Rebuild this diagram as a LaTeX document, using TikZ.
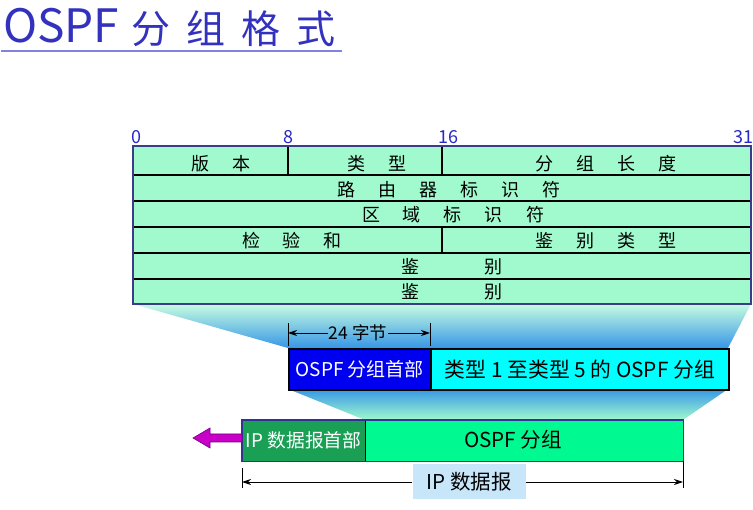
\documentclass[tikz,border=0pt]{standalone}
\usepackage{fontspec}
\setmainfont{Noto Sans CJK SC}
\usetikzlibrary{arrows.meta}
\definecolor{mint}{RGB}{160,250,205}
\definecolor{titleblue}{RGB}{50,50,190}
\definecolor{ulblue}{RGB}{130,130,225}
\definecolor{bitblue}{RGB}{40,40,200}
\definecolor{tborder}{RGB}{60,60,140}
\definecolor{hdrblue}{RGB}{0,0,240}
\definecolor{pktcyan}{RGB}{0,255,255}
\definecolor{dkgreen}{RGB}{25,160,85}
\definecolor{brgreen}{RGB}{0,250,145}
\definecolor{fnblue}{RGB}{55,150,230}
\definecolor{lblbg}{RGB}{200,230,250}
\definecolor{magenta2}{RGB}{200,0,200}
\definecolor{purple2}{RGB}{110,0,130}
\definecolor{navy2}{RGB}{50,50,150}
\newcommand\cg{\hspace{23pt}}
\begin{document}
\begin{tikzpicture}[x=1pt,y=-1pt,
  celltext/.style={font=\fontsize{18}{18}\selectfont, inner sep=0pt},
  bitlab/.style={font=\fontsize{18}{18}\selectfont, text=bitblue, inner sep=0pt, anchor=base},
  tick/.style={line width=0.9pt},
  dimarrow/.style={line width=0.9pt, -{Stealth[length=9pt,width=6pt]}},
]
\useasboundingbox (0,0) rectangle (753,510);

% title
\node[anchor=base west, inner sep=0pt, text=titleblue, font=\fontsize{46}{46}\selectfont] (title) at (3,43) {OSPF};
\node[anchor=base west, inner sep=0pt, text=titleblue, font=\fontsize{39}{39}\selectfont] (titlecn) at (131,44) {分\hspace{16pt}组\hspace{16pt}格\hspace{16pt}式};
\draw[ulblue, line width=1.8pt] (1,51) -- (342,51);

% funnels
\shade[top color=mint!60!white, bottom color=fnblue] (133,304) -- (751,304) -- (728,348) -- (288,348) -- cycle;
\shade[top color=fnblue, bottom color=mint] (288,389) -- (728,389) -- (683,420) -- (365,420) -- cycle;

% table
\fill[mint] (133,146) rectangle (751,304);
\foreach \yy in {175,201,227,253,279} \draw[line width=1.1pt] (133,\yy) -- (751,\yy);
\draw[line width=1.1pt] (288,146) -- (288,175);
\draw[line width=1.1pt] (442,146) -- (442,175);
\draw[line width=1.1pt] (442,227) -- (442,253);
\draw[tborder, line width=1.2pt] (133,146) rectangle (751,304);

\node[bitlab] (b0) at (136,144) {0};
\node[bitlab] (b8) at (288,144) {8};
\node[bitlab] (b16) at (448,144) {16};
\node[bitlab] (b31) at (743,144) {31};

\node[celltext] (ver) at (221,164) {版\cg 本};
\node[celltext] (typ) at (377,164) {类\cg 型};
\node[celltext] (len) at (606,164) {分\cg 组\cg 长\cg 度};
\node[celltext] (rid) at (449,190) {路\cg 由\cg 器\cg 标\cg 识\cg 符};
\node[celltext] (aid) at (453,215) {区\cg 域\cg 标\cg 识\cg 符};
\node[celltext] (chk) at (292,241) {检\cg 验\cg 和};
\node[celltext] (aut) at (606,241) {鉴\cg 别\cg 类\cg 型};
\node[celltext] (au1) at (452,267) {鉴\hspace{65pt}别};
\node[celltext] (au2) at (452,292) {鉴\hspace{65pt}别};

% middle boxes
\node[draw=black, line width=1.8pt, fill=hdrblue, text=white, minimum width=142, minimum height=41, inner sep=0pt, anchor=north west, font=\fontsize{19}{19}\selectfont] (hdr) at (288,348) {OSPF 分组首部};
\node[draw=black, line width=1.8pt, fill=pktcyan, text=black, minimum width=298, minimum height=41, inner sep=0pt, anchor=north west, font=\fontsize{20.8}{20.8}\selectfont] (pkt) at (430,348) {类型 1 至类型 5 的 OSPF 分组};

% 24 bytes dimension
\coordinate (t1a) at (288,323); \coordinate (t1b) at (288,346);
\coordinate (t2a) at (430,323); \coordinate (t2b) at (430,346);
\draw[tick] (t1a) -- (t1b);
\draw[tick] (t2a) -- (t2b);
\node[inner sep=1pt, font=\fontsize{17.5}{17.5}\selectfont] (b24) at (358,333) {24 字节};
\draw[dimarrow] (b24.west) -- (t1a |- b24);
\draw[dimarrow] (b24.east) -- (t2a |- b24);

% bottom boxes
\node[fill=dkgreen, text=white, minimum width=123, minimum height=41, inner sep=0pt, anchor=north west, font=\fontsize{18.8}{18.8}\selectfont] (iph) at (242,420) {IP 数据报首部};
\node[fill=brgreen, minimum width=318, minimum height=41, inner sep=0pt, anchor=north west] (osp) at (365,420) {};
\node[inner sep=0pt, font=\fontsize{20.6}{20.6}\selectfont] (ospt) at (513,440) {OSPF 分组};
\draw[line width=1pt] (iph.north east) -- (iph.south east);
\draw[navy2, line width=1.6pt] (iph.north west) rectangle (osp.south east);

% magenta arrow
\coordinate (ma) at (242,438);
\fill[magenta2, draw=purple2, line width=0.6pt] (ma) ++(0,-4) -- (210,434) -- (210,428) -- (193,438) -- (210,448) -- (210,442) -- (242,442) -- cycle;

% IP datagram dimension
\coordinate (u1a) at (242,468); \coordinate (u1b) at (242,488);
\coordinate (u2a) at (683,461); \coordinate (u2b) at (683,488);
\draw[tick] (u1a) -- (u1b);
\draw[tick] (u2a) -- (u2b);
\node[fill=lblbg, minimum width=113, minimum height=35, inner sep=0pt, font=\fontsize{20.5}{20.5}\selectfont] (ipd) at (469,482) {IP 数据报};
\draw[dimarrow] (ipd.west) -- (u1a |- ipd);
\draw[dimarrow] (ipd.east) -- (u2a |- ipd);
\end{tikzpicture}
\end{document}
